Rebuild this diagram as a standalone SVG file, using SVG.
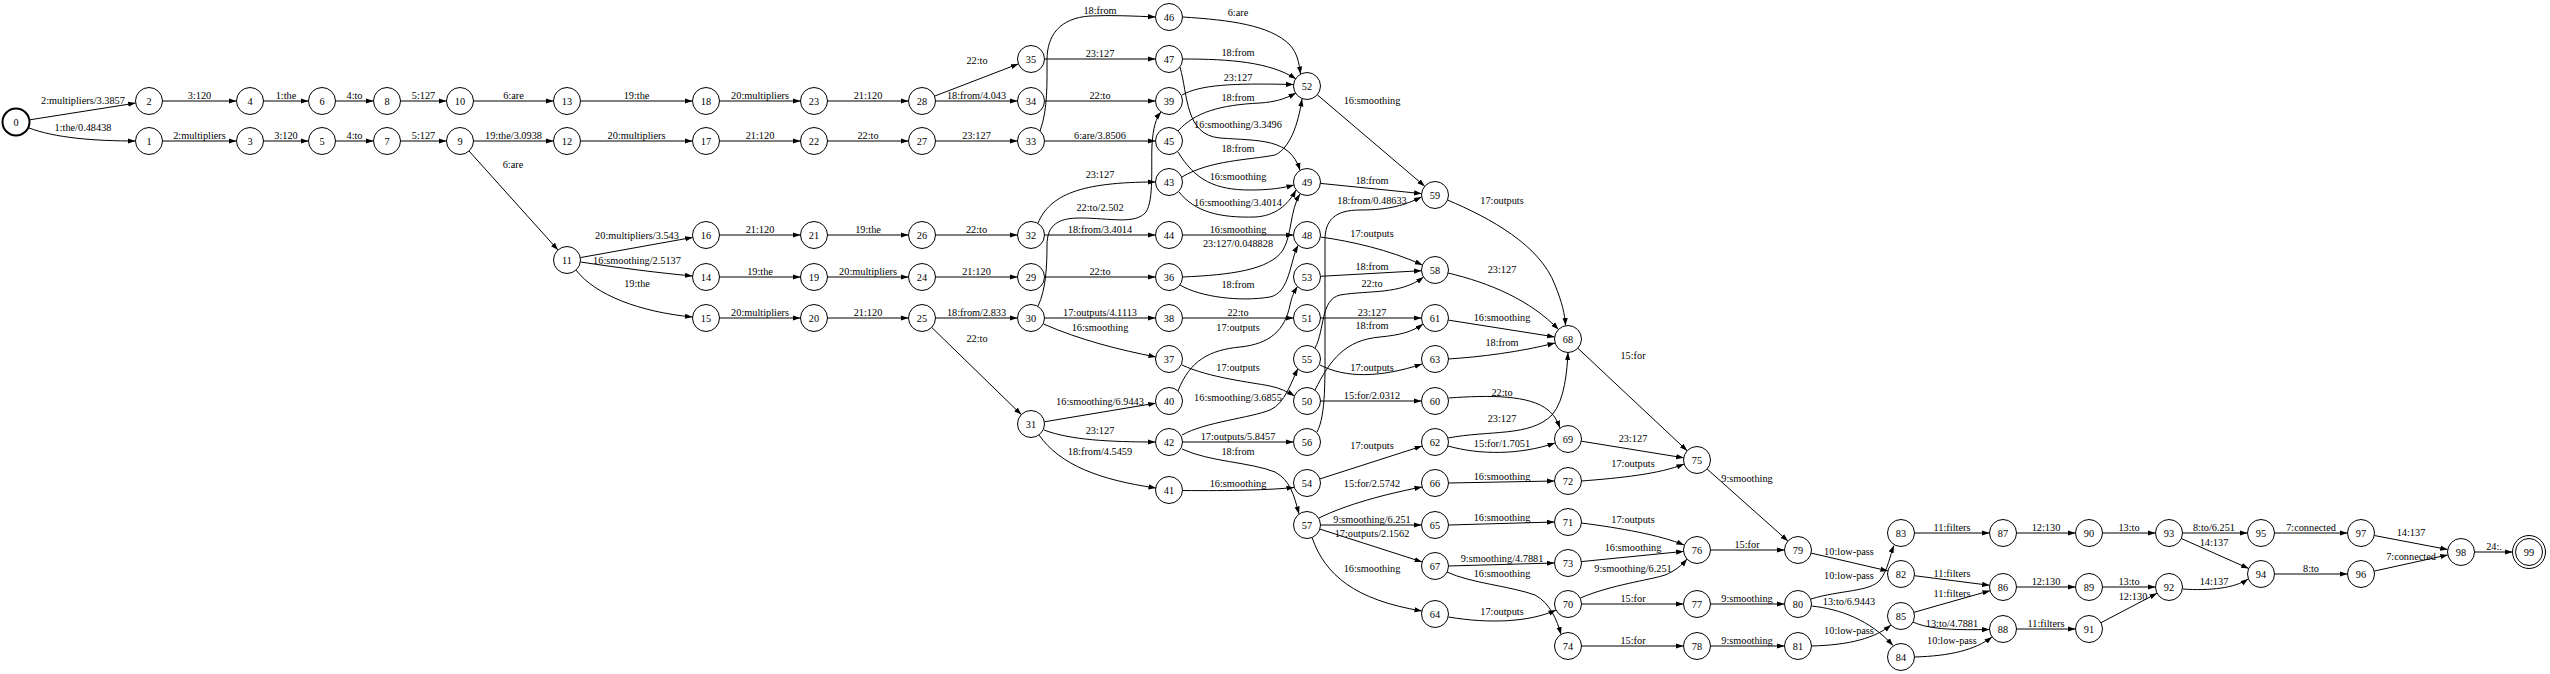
<svg xmlns="http://www.w3.org/2000/svg" width="2550" height="674" viewBox="0 0 2550 674">
<style>
.n circle{fill:#fff;stroke:#000;stroke-width:1}
.n text,.l{font-family:"Liberation Serif","Times New Roman",serif;font-size:10.3px;fill:#000;text-anchor:middle}
#edges path{fill:none;stroke:#000;stroke-width:1;marker-end:url(#ah)}
</style>
<defs>
<marker id="ah" markerUnits="userSpaceOnUse" markerWidth="7.5" markerHeight="6" viewBox="0 0 7.5 6" refX="7.5" refY="3" orient="auto"><path d="M0,0.4 L7.5,3 L0,5.6 z" fill="#000"/></marker>
</defs>
<rect width="2550" height="674" fill="#fff"/>
<g id="edges">
<path d="M29.3,119.9 L135.7,103.1"/><text class="l" x="83" y="103.5">2:multipliers/3.3857</text>
<path d="M28.3,127.7 C55,138 95,141 135.5,141"/><text class="l" x="83" y="130.5">1:the/0.48438</text>
<path d="M162.5,101 H236.5"/><text class="l" x="199.5" y="99">3:120</text>
<path d="M263.5,101 H308.5"/><text class="l" x="286" y="99">1:the</text>
<path d="M335.5,101 H373.5"/><text class="l" x="354.5" y="99">4:to</text>
<path d="M400.5,101 H446.5"/><text class="l" x="423.5" y="99">5:127</text>
<path d="M473.5,101 H553.5"/><text class="l" x="513.5" y="99">6:are</text>
<path d="M580.5,101 H692.5"/><text class="l" x="636.5" y="99">19:the</text>
<path d="M719.5,101 H800.5"/><text class="l" x="760" y="99">20:multipliers</text>
<path d="M827.5,101 H908.5"/><text class="l" x="868" y="99">21:120</text>
<path d="M935.5,101 H1017.5"/><text class="l" x="976.5" y="99">18:from/4.043</text>
<path d="M1044.5,101 H1155.5"/><text class="l" x="1100" y="99">22:to</text>
<path d="M162.5,141 H236.5"/><text class="l" x="199.5" y="139">2:multipliers</text>
<path d="M263.5,141 H308.5"/><text class="l" x="286" y="139">3:120</text>
<path d="M335.5,141 H373.5"/><text class="l" x="354.5" y="139">4:to</text>
<path d="M400.5,141 H446.5"/><text class="l" x="423.5" y="139">5:127</text>
<path d="M473.5,141 H553.5"/><text class="l" x="513.5" y="139">19:the/3.0938</text>
<path d="M580.5,141 H692.5"/><text class="l" x="636.5" y="139">20:multipliers</text>
<path d="M719.5,141 H800.5"/><text class="l" x="760" y="139">21:120</text>
<path d="M827.5,141 H908.5"/><text class="l" x="868" y="139">22:to</text>
<path d="M935.5,141 H1017.5"/><text class="l" x="976.5" y="139">23:127</text>
<path d="M1044.5,141 H1155.5"/><text class="l" x="1100" y="139">6:are/3.8506</text>
<path d="M469,151 L558,250"/><text class="l" x="513" y="168">6:are</text>
<path d="M580.3,257.6 L692.7,237.4"/><text class="l" x="637" y="238.5">20:multipliers/3.543</text>
<path d="M580.5,262 C620,268 660,273 692.5,276"/><text class="l" x="637" y="263.5">16:smoothing/2.5137</text>
<path d="M576,270 C595,295 640,312 692.5,317"/><text class="l" x="637" y="286.5">19:the</text>
<path d="M719.5,235 H800.5"/><text class="l" x="760" y="233">21:120</text>
<path d="M827.5,235 H908.5"/><text class="l" x="868" y="233">19:the</text>
<path d="M935.5,235 H1017.5"/><text class="l" x="976.5" y="233">22:to</text>
<path d="M1044.5,235 H1155.5"/><text class="l" x="1100" y="233">18:from/3.4014</text>
<path d="M1182.5,235 H1293.5"/><text class="l" x="1238" y="233">16:smoothing</text>
<path d="M719.5,277 H800.5"/><text class="l" x="760" y="275">19:the</text>
<path d="M827.5,277 H908.5"/><text class="l" x="868" y="275">20:multipliers</text>
<path d="M935.5,277 H1017.5"/><text class="l" x="976.5" y="275">21:120</text>
<path d="M1044.5,277 H1155.5"/><text class="l" x="1100" y="275">22:to</text>
<path d="M719.5,318 H800.5"/><text class="l" x="760" y="316">20:multipliers</text>
<path d="M827.5,318 H908.5"/><text class="l" x="868" y="316">21:120</text>
<path d="M935.5,318 H1017.5"/><text class="l" x="976.5" y="316">18:from/2.833</text>
<path d="M1044.5,318 H1155.5"/><text class="l" x="1100" y="316">17:outputs/4.1113</text>
<path d="M1182.5,318 H1293.5"/><text class="l" x="1238" y="316">22:to</text>
<path d="M1320.5,318 H1421.5"/><text class="l" x="1372" y="316">23:127</text>
<path d="M931.7,327.4 L1021.3,414.6"/><text class="l" x="977" y="341.5">22:to</text>
<path d="M934.6,96.1 L1018.4,63.9"/><text class="l" x="977" y="64">22:to</text>
<path d="M1044.5,59 H1155.5"/><text class="l" x="1100" y="57">23:127</text>
<path d="M1040,131 C1048,110 1047,80 1047,60 C1047,35 1060,18 1090,16 C1110,15 1135,16 1155.5,17"/><text class="l" x="1100" y="14">18:from</text>
<path d="M1038,223 C1050,195 1080,182 1155.5,182"/><text class="l" x="1100" y="178">23:127</text>
<path d="M1038,306 C1046,290 1047,265 1047,245 C1047,225 1058,218 1080,218 C1110,218 1135,225 1146,212 C1154,200 1151,165 1152,145 C1153,128 1156,118 1161,112"/><text class="l" x="1100" y="210.5">22:to/2.502</text>
<path d="M1043.5,324 C1080,340 1120,350 1156,357"/><text class="l" x="1100" y="330.5">16:smoothing</text>
<path d="M1044.3,421.8 L1155.7,403.2"/><text class="l" x="1100" y="404.5">16:smoothing/6.9443</text>
<path d="M1044,430 C1070,440 1110,442 1155.5,442"/><text class="l" x="1100" y="433.5">23:127</text>
<path d="M1039,435 C1060,465 1100,480 1156,488"/><text class="l" x="1100" y="454.5">18:from/4.5459</text>
<path d="M1182.5,17 C1230,20 1270,25 1290,45 C1297,53 1299,62 1300.5,74"/><text class="l" x="1238" y="16">6:are</text>
<path d="M1182.5,59 C1230,59 1270,62 1296,79"/><text class="l" x="1238" y="56">18:from</text>
<path d="M1182,95 C1200,85 1230,83 1293.5,84.5"/><text class="l" x="1238" y="81">23:127</text>
<path d="M1178,131 C1195,112 1220,105 1260,103 C1275,102 1285,99 1296,93"/><text class="l" x="1238" y="100.5">18:from</text>
<path d="M1180,67 C1188,95 1185,135 1220,138 C1260,141 1290,138 1300,170.3"/><text class="l" x="1238" y="127.5">16:smoothing/3.3496</text>
<path d="M1182,177 C1210,160 1250,160 1275,155 C1290,148 1298,125 1302,99"/><text class="l" x="1238" y="152">18:from</text>
<path d="M1178,152 C1195,180 1215,190 1250,190 C1270,190 1283,188 1294,185"/><text class="l" x="1238" y="179.5">16:smoothing</text>
<path d="M1179,192 C1195,212 1220,218 1255,217 C1275,216 1288,205 1296,190"/><text class="l" x="1238" y="206">16:smoothing/3.4014</text>
<path d="M1182.5,277 C1230,275 1270,270 1283,250 C1292,235 1290,210 1300,194"/><text class="l" x="1238" y="247">23:127/0.048828</text>
<path d="M1180,285 C1200,297 1240,302 1270,297 C1290,293 1290,260 1298.2,245.3"/><text class="l" x="1238" y="288">18:from</text>
<path d="M1178,391 C1190,360 1210,350 1240,347 C1270,344 1285,330 1290,305 C1292,296 1294,292 1297.5,286.5"/><text class="l" x="1238" y="330.5">17:outputs</text>
<path d="M1182,365 C1210,378 1250,382 1270,386 C1280,388 1288,392 1294.5,396"/><text class="l" x="1238" y="370.5">17:outputs</text>
<path d="M1182,435 C1205,422 1250,418 1270,410 C1285,404 1292,380 1298,368.5"/><text class="l" x="1238" y="400.5">16:smoothing/3.6855</text>
<path d="M1182.5,442 H1293.5"/><text class="l" x="1238" y="440">17:outputs/5.8457</text>
<path d="M1182,449 C1210,462 1250,462 1275,472 C1290,480 1294,495 1299,514"/><text class="l" x="1238" y="454.5">18:from</text>
<path d="M1182.5,490.5 C1230,491 1270,490 1294,487.5"/><text class="l" x="1238" y="487">16:smoothing</text>
<path d="M1317.3,94.8 L1424.7,186.2"/><text class="l" x="1372" y="103.5">16:smoothing</text>
<path d="M1320.4,183.4 L1421.6,193.6"/><text class="l" x="1372" y="183.5">18:from</text>
<path d="M1317,432 C1326,415 1325,380 1325,330 L1325,240 C1325,220 1335,210 1360,210 C1390,210 1405,205 1421.5,197"/><text class="l" x="1372" y="203.5">18:from/0.48633</text>
<path d="M1320.5,237 C1350,241 1390,250 1422.4,265"/><text class="l" x="1372" y="236.5">17:outputs</text>
<path d="M1320.5,276.3 L1421.5,270.7"/><text class="l" x="1372" y="270">18:from</text>
<path d="M1315,348 C1325,330 1320,300 1340,295 C1370,290 1400,295 1423.5,277"/><text class="l" x="1372" y="287">22:to</text>
<path d="M1315,390 C1330,360 1345,340 1380,337 C1400,335 1412,332 1423,324"/><text class="l" x="1372" y="328.5">18:from</text>
<path d="M1320,365 C1345,378 1380,378 1422,364"/><text class="l" x="1372" y="370.5">17:outputs</text>
<path d="M1320.5,401 H1421.5"/><text class="l" x="1372" y="399">15:for/2.0312</text>
<path d="M1319.9,478.9 L1422.1,446.1"/><text class="l" x="1372" y="448.5">17:outputs</text>
<path d="M1319,518 C1345,505 1385,494 1422,487"/><text class="l" x="1372" y="486.5">15:for/2.5742</text>
<path d="M1320.5,525 H1421.5"/><text class="l" x="1372" y="523">9:smoothing/6.251</text>
<path d="M1319.9,529.1 L1422.1,561.9"/><text class="l" x="1372" y="536.5">17:outputs/2.1562</text>
<path d="M1312,537.5 C1325,575 1355,600 1422,611"/><text class="l" x="1372" y="571.5">16:smoothing</text>
<path d="M1447.5,200 C1490,218 1540,245 1555,285 C1562,302 1565,315 1565.5,325.5"/><text class="l" x="1502" y="203.5">17:outputs</text>
<path d="M1448,273 C1490,283 1530,300 1558.5,329.5"/><text class="l" x="1502" y="273">23:127</text>
<path d="M1448.3,320.1 L1554.7,336.9"/><text class="l" x="1502" y="320.5">16:smoothing</text>
<path d="M1448,359 C1480,357 1520,352 1555,343"/><text class="l" x="1502" y="345.5">18:from</text>
<path d="M1448.5,398 C1490,395 1530,395 1548,410 C1554,415 1557,420 1560,428"/><text class="l" x="1502" y="395.5">22:to</text>
<path d="M1448,438 C1490,430 1530,437 1552,415 C1565,400 1567,370 1568,352.5"/><text class="l" x="1502" y="421.5">23:127</text>
<path d="M1448,446 C1480,455 1520,455 1555,443"/><text class="l" x="1502" y="446.5">15:for/1.7051</text>
<path d="M1448.5,483 L1554.5,481"/><text class="l" x="1502" y="480">16:smoothing</text>
<path d="M1448.5,525 L1554.5,522"/><text class="l" x="1502" y="521">16:smoothing</text>
<path d="M1448.5,566 L1554.5,563"/><text class="l" x="1502" y="562">9:smoothing/4.7881</text>
<path d="M1447,572 C1470,583 1510,586 1535,595 C1550,603 1557,620 1561,634.5"/><text class="l" x="1502" y="577">16:smoothing</text>
<path d="M1448.5,617 C1490,624 1530,622 1556,610"/><text class="l" x="1502" y="614.5">17:outputs</text>
<path d="M1577.8,348.2 L1687.2,450.8"/><text class="l" x="1633" y="358.5">15:for</text>
<path d="M1581.3,441.2 L1683.7,457.8"/><text class="l" x="1633" y="441.5">23:127</text>
<path d="M1581.5,481 C1620,478 1660,474 1684,464"/><text class="l" x="1633" y="466.5">17:outputs</text>
<path d="M1581.5,523 C1620,528 1660,535 1684,545"/><text class="l" x="1633" y="522.5">17:outputs</text>
<path d="M1581.4,561.6 L1683.6,551.4"/><text class="l" x="1633" y="550.5">16:smoothing</text>
<path d="M1580.5,598 C1610,585 1650,580 1665,575 C1675,571 1682,565 1687,559"/><text class="l" x="1633" y="571.5">9:smoothing/6.251</text>
<path d="M1581.5,604 H1683.5"/><text class="l" x="1633" y="602">15:for</text>
<path d="M1581.5,646 H1683.5"/><text class="l" x="1633" y="644">15:for</text>
<path d="M1707.1,469 L1787.9,541"/><text class="l" x="1747" y="481.5">9:smoothing</text>
<path d="M1710.5,550 H1784.5"/><text class="l" x="1747" y="548">15:for</text>
<path d="M1710.5,604 H1784.5"/><text class="l" x="1747" y="602">9:smoothing</text>
<path d="M1710.5,646 H1784.5"/><text class="l" x="1747" y="644">9:smoothing</text>
<path d="M1811.1,553.1 L1887.9,570.9"/><text class="l" x="1849" y="554.5">10:low-pass</text>
<path d="M1811,599 C1840,590 1870,592 1880,580 C1888,570 1890,555 1894,545.5"/><text class="l" x="1849" y="578.5">10:low-pass</text>
<path d="M1811.5,606 C1840,609 1870,620 1893,645.5"/><text class="l" x="1849" y="604.5">13:to/6.9443</text>
<path d="M1811.5,646 C1850,645 1875,638 1891,625"/><text class="l" x="1849" y="633.5">10:low-pass</text>
<path d="M1914.5,533 H1989.5"/><text class="l" x="1952" y="531">11:filters</text>
<path d="M1914.4,575.7 L1989.6,585.3"/><text class="l" x="1952" y="576.5">11:filters</text>
<path d="M1914,612.3 L1990,590.7"/><text class="l" x="1952" y="596.5">11:filters</text>
<path d="M1913,622 C1930,630 1960,630 1989.5,629.5"/><text class="l" x="1952" y="626.5">13:to/4.7881</text>
<path d="M1914.5,657 C1950,656 1975,650 1992,637"/><text class="l" x="1952" y="643.5">10:low-pass</text>
<path d="M2016.5,533 H2075.5"/><text class="l" x="2046" y="531">12:130</text>
<path d="M2016.5,587 H2075.5"/><text class="l" x="2046" y="585">12:130</text>
<path d="M2016.5,629 H2075.5"/><text class="l" x="2046" y="627">11:filters</text>
<path d="M2102.5,533 H2155.5"/><text class="l" x="2129" y="531">13:to</text>
<path d="M2102.5,587 H2155.5"/><text class="l" x="2129" y="585">13:to</text>
<path d="M2101,622.7 L2157,593.3"/><text class="l" x="2133" y="599.5">12:130</text>
<path d="M2182.5,533 H2247.5"/><text class="l" x="2214" y="531">8:to/6.251</text>
<path d="M2181.3,538.5 L2248.7,568.5"/><text class="l" x="2214" y="545.5">14:137</text>
<path d="M2182.5,589 C2210,591 2235,588 2248,579"/><text class="l" x="2214" y="585">14:137</text>
<path d="M2274.5,533 H2347.5"/><text class="l" x="2311" y="531">7:connected</text>
<path d="M2274.5,574 H2347.5"/><text class="l" x="2311" y="572">8:to</text>
<path d="M2374.3,535.5 L2447.7,549.5"/><text class="l" x="2411" y="535.5">14:137</text>
<path d="M2374.2,571.1 L2447.8,554.9"/><text class="l" x="2411" y="559.5">7:connected</text>
<path d="M2474.5,552 H2512.5"/><text class="l" x="2494" y="550">24:.</text>
</g>
<g id="n0" class="n"><circle cx="16" cy="122" r="13.5" style="stroke-width:2"/><text x="16" y="125.7">0</text></g>
<g id="n1" class="n"><circle cx="149" cy="141" r="13.5"/><text x="149" y="144.7">1</text></g>
<g id="n2" class="n"><circle cx="149" cy="101" r="13.5"/><text x="149" y="104.7">2</text></g>
<g id="n3" class="n"><circle cx="250" cy="141" r="13.5"/><text x="250" y="144.7">3</text></g>
<g id="n4" class="n"><circle cx="250" cy="101" r="13.5"/><text x="250" y="104.7">4</text></g>
<g id="n5" class="n"><circle cx="322" cy="141" r="13.5"/><text x="322" y="144.7">5</text></g>
<g id="n6" class="n"><circle cx="322" cy="101" r="13.5"/><text x="322" y="104.7">6</text></g>
<g id="n7" class="n"><circle cx="387" cy="141" r="13.5"/><text x="387" y="144.7">7</text></g>
<g id="n8" class="n"><circle cx="387" cy="101" r="13.5"/><text x="387" y="104.7">8</text></g>
<g id="n9" class="n"><circle cx="460" cy="141" r="13.5"/><text x="460" y="144.7">9</text></g>
<g id="n10" class="n"><circle cx="460" cy="101" r="13.5"/><text x="460" y="104.7">10</text></g>
<g id="n11" class="n"><circle cx="567" cy="260" r="13.5"/><text x="567" y="263.7">11</text></g>
<g id="n12" class="n"><circle cx="567" cy="141" r="13.5"/><text x="567" y="144.7">12</text></g>
<g id="n13" class="n"><circle cx="567" cy="101" r="13.5"/><text x="567" y="104.7">13</text></g>
<g id="n14" class="n"><circle cx="706" cy="277" r="13.5"/><text x="706" y="280.7">14</text></g>
<g id="n15" class="n"><circle cx="706" cy="318" r="13.5"/><text x="706" y="321.7">15</text></g>
<g id="n16" class="n"><circle cx="706" cy="235" r="13.5"/><text x="706" y="238.7">16</text></g>
<g id="n17" class="n"><circle cx="706" cy="141" r="13.5"/><text x="706" y="144.7">17</text></g>
<g id="n18" class="n"><circle cx="706" cy="101" r="13.5"/><text x="706" y="104.7">18</text></g>
<g id="n19" class="n"><circle cx="814" cy="277" r="13.5"/><text x="814" y="280.7">19</text></g>
<g id="n20" class="n"><circle cx="814" cy="318" r="13.5"/><text x="814" y="321.7">20</text></g>
<g id="n21" class="n"><circle cx="814" cy="235" r="13.5"/><text x="814" y="238.7">21</text></g>
<g id="n22" class="n"><circle cx="814" cy="141" r="13.5"/><text x="814" y="144.7">22</text></g>
<g id="n23" class="n"><circle cx="814" cy="101" r="13.5"/><text x="814" y="104.7">23</text></g>
<g id="n24" class="n"><circle cx="922" cy="277" r="13.5"/><text x="922" y="280.7">24</text></g>
<g id="n25" class="n"><circle cx="922" cy="318" r="13.5"/><text x="922" y="321.7">25</text></g>
<g id="n26" class="n"><circle cx="922" cy="235" r="13.5"/><text x="922" y="238.7">26</text></g>
<g id="n27" class="n"><circle cx="922" cy="141" r="13.5"/><text x="922" y="144.7">27</text></g>
<g id="n28" class="n"><circle cx="922" cy="101" r="13.5"/><text x="922" y="104.7">28</text></g>
<g id="n29" class="n"><circle cx="1031" cy="277" r="13.5"/><text x="1031" y="280.7">29</text></g>
<g id="n30" class="n"><circle cx="1031" cy="318" r="13.5"/><text x="1031" y="321.7">30</text></g>
<g id="n31" class="n"><circle cx="1031" cy="424" r="13.5"/><text x="1031" y="427.7">31</text></g>
<g id="n32" class="n"><circle cx="1031" cy="235" r="13.5"/><text x="1031" y="238.7">32</text></g>
<g id="n33" class="n"><circle cx="1031" cy="141" r="13.5"/><text x="1031" y="144.7">33</text></g>
<g id="n34" class="n"><circle cx="1031" cy="101" r="13.5"/><text x="1031" y="104.7">34</text></g>
<g id="n35" class="n"><circle cx="1031" cy="59" r="13.5"/><text x="1031" y="62.7">35</text></g>
<g id="n36" class="n"><circle cx="1169" cy="277" r="13.5"/><text x="1169" y="280.7">36</text></g>
<g id="n37" class="n"><circle cx="1169" cy="359" r="13.5"/><text x="1169" y="362.7">37</text></g>
<g id="n38" class="n"><circle cx="1169" cy="318" r="13.5"/><text x="1169" y="321.7">38</text></g>
<g id="n39" class="n"><circle cx="1169" cy="101" r="13.5"/><text x="1169" y="104.7">39</text></g>
<g id="n40" class="n"><circle cx="1169" cy="401" r="13.5"/><text x="1169" y="404.7">40</text></g>
<g id="n41" class="n"><circle cx="1169" cy="490" r="13.5"/><text x="1169" y="493.7">41</text></g>
<g id="n42" class="n"><circle cx="1169" cy="442" r="13.5"/><text x="1169" y="445.7">42</text></g>
<g id="n43" class="n"><circle cx="1169" cy="182" r="13.5"/><text x="1169" y="185.7">43</text></g>
<g id="n44" class="n"><circle cx="1169" cy="235" r="13.5"/><text x="1169" y="238.7">44</text></g>
<g id="n45" class="n"><circle cx="1169" cy="141" r="13.5"/><text x="1169" y="144.7">45</text></g>
<g id="n46" class="n"><circle cx="1169" cy="17" r="13.5"/><text x="1169" y="20.7">46</text></g>
<g id="n47" class="n"><circle cx="1169" cy="59" r="13.5"/><text x="1169" y="62.7">47</text></g>
<g id="n48" class="n"><circle cx="1307" cy="235" r="13.5"/><text x="1307" y="238.7">48</text></g>
<g id="n49" class="n"><circle cx="1307" cy="182" r="13.5"/><text x="1307" y="185.7">49</text></g>
<g id="n50" class="n"><circle cx="1307" cy="401" r="13.5"/><text x="1307" y="404.7">50</text></g>
<g id="n51" class="n"><circle cx="1307" cy="318" r="13.5"/><text x="1307" y="321.7">51</text></g>
<g id="n52" class="n"><circle cx="1307" cy="86" r="13.5"/><text x="1307" y="89.7">52</text></g>
<g id="n53" class="n"><circle cx="1307" cy="277" r="13.5"/><text x="1307" y="280.7">53</text></g>
<g id="n54" class="n"><circle cx="1307" cy="483" r="13.5"/><text x="1307" y="486.7">54</text></g>
<g id="n55" class="n"><circle cx="1307" cy="359" r="13.5"/><text x="1307" y="362.7">55</text></g>
<g id="n56" class="n"><circle cx="1307" cy="442" r="13.5"/><text x="1307" y="445.7">56</text></g>
<g id="n57" class="n"><circle cx="1307" cy="525" r="13.5"/><text x="1307" y="528.7">57</text></g>
<g id="n58" class="n"><circle cx="1435" cy="270" r="13.5"/><text x="1435" y="273.7">58</text></g>
<g id="n59" class="n"><circle cx="1435" cy="195" r="13.5"/><text x="1435" y="198.7">59</text></g>
<g id="n60" class="n"><circle cx="1435" cy="401" r="13.5"/><text x="1435" y="404.7">60</text></g>
<g id="n61" class="n"><circle cx="1435" cy="318" r="13.5"/><text x="1435" y="321.7">61</text></g>
<g id="n62" class="n"><circle cx="1435" cy="442" r="13.5"/><text x="1435" y="445.7">62</text></g>
<g id="n63" class="n"><circle cx="1435" cy="359" r="13.5"/><text x="1435" y="362.7">63</text></g>
<g id="n64" class="n"><circle cx="1435" cy="614" r="13.5"/><text x="1435" y="617.7">64</text></g>
<g id="n65" class="n"><circle cx="1435" cy="525" r="13.5"/><text x="1435" y="528.7">65</text></g>
<g id="n66" class="n"><circle cx="1435" cy="483" r="13.5"/><text x="1435" y="486.7">66</text></g>
<g id="n67" class="n"><circle cx="1435" cy="566" r="13.5"/><text x="1435" y="569.7">67</text></g>
<g id="n68" class="n"><circle cx="1568" cy="339" r="13.5"/><text x="1568" y="342.7">68</text></g>
<g id="n69" class="n"><circle cx="1568" cy="439" r="13.5"/><text x="1568" y="442.7">69</text></g>
<g id="n70" class="n"><circle cx="1568" cy="604" r="13.5"/><text x="1568" y="607.7">70</text></g>
<g id="n71" class="n"><circle cx="1568" cy="522" r="13.5"/><text x="1568" y="525.7">71</text></g>
<g id="n72" class="n"><circle cx="1568" cy="481" r="13.5"/><text x="1568" y="484.7">72</text></g>
<g id="n73" class="n"><circle cx="1568" cy="563" r="13.5"/><text x="1568" y="566.7">73</text></g>
<g id="n74" class="n"><circle cx="1568" cy="646" r="13.5"/><text x="1568" y="649.7">74</text></g>
<g id="n75" class="n"><circle cx="1697" cy="460" r="13.5"/><text x="1697" y="463.7">75</text></g>
<g id="n76" class="n"><circle cx="1697" cy="550" r="13.5"/><text x="1697" y="553.7">76</text></g>
<g id="n77" class="n"><circle cx="1697" cy="604" r="13.5"/><text x="1697" y="607.7">77</text></g>
<g id="n78" class="n"><circle cx="1697" cy="646" r="13.5"/><text x="1697" y="649.7">78</text></g>
<g id="n79" class="n"><circle cx="1798" cy="550" r="13.5"/><text x="1798" y="553.7">79</text></g>
<g id="n80" class="n"><circle cx="1798" cy="604" r="13.5"/><text x="1798" y="607.7">80</text></g>
<g id="n81" class="n"><circle cx="1798" cy="646" r="13.5"/><text x="1798" y="649.7">81</text></g>
<g id="n82" class="n"><circle cx="1901" cy="574" r="13.5"/><text x="1901" y="577.7">82</text></g>
<g id="n83" class="n"><circle cx="1901" cy="533" r="13.5"/><text x="1901" y="536.7">83</text></g>
<g id="n84" class="n"><circle cx="1901" cy="657" r="13.5"/><text x="1901" y="660.7">84</text></g>
<g id="n85" class="n"><circle cx="1901" cy="616" r="13.5"/><text x="1901" y="619.7">85</text></g>
<g id="n86" class="n"><circle cx="2003" cy="587" r="13.5"/><text x="2003" y="590.7">86</text></g>
<g id="n87" class="n"><circle cx="2003" cy="533" r="13.5"/><text x="2003" y="536.7">87</text></g>
<g id="n88" class="n"><circle cx="2003" cy="629" r="13.5"/><text x="2003" y="632.7">88</text></g>
<g id="n89" class="n"><circle cx="2089" cy="587" r="13.5"/><text x="2089" y="590.7">89</text></g>
<g id="n90" class="n"><circle cx="2089" cy="533" r="13.5"/><text x="2089" y="536.7">90</text></g>
<g id="n91" class="n"><circle cx="2089" cy="629" r="13.5"/><text x="2089" y="632.7">91</text></g>
<g id="n92" class="n"><circle cx="2169" cy="587" r="13.5"/><text x="2169" y="590.7">92</text></g>
<g id="n93" class="n"><circle cx="2169" cy="533" r="13.5"/><text x="2169" y="536.7">93</text></g>
<g id="n94" class="n"><circle cx="2261" cy="574" r="13.5"/><text x="2261" y="577.7">94</text></g>
<g id="n95" class="n"><circle cx="2261" cy="533" r="13.5"/><text x="2261" y="536.7">95</text></g>
<g id="n96" class="n"><circle cx="2361" cy="574" r="13.5"/><text x="2361" y="577.7">96</text></g>
<g id="n97" class="n"><circle cx="2361" cy="533" r="13.5"/><text x="2361" y="536.7">97</text></g>
<g id="n98" class="n"><circle cx="2461" cy="552" r="13.5"/><text x="2461" y="555.7">98</text></g>
<g id="n99" class="n"><circle cx="2529" cy="552" r="16.5"/><circle cx="2529" cy="552" r="13.5"/><text x="2529" y="555.7">99</text></g>
</svg>
